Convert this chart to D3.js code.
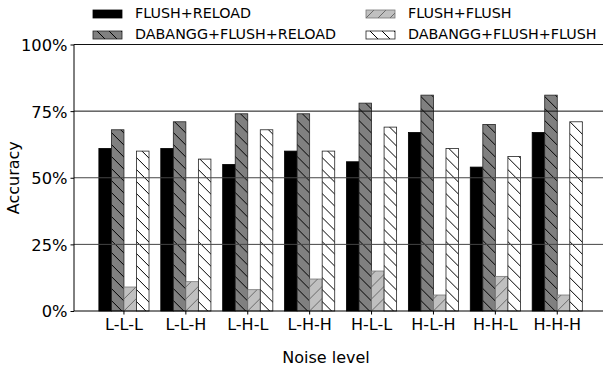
<!DOCTYPE html>
<html>
<head>
<meta charset="utf-8">
<script src="https://cdn.jsdelivr.net/npm/d3@7"></script>
<style>
  body { margin: 0; background: #fff; }
  text { font-family: "DejaVu Sans", sans-serif; fill: #000; }
</style>
</head>
<body>
<div id="chart"></div>
<script>
// Data
var categories = ['L-L-L', 'L-L-H', 'L-H-L', 'L-H-H', 'H-L-L', 'H-L-H', 'H-H-L', 'H-H-H'];
var seriesNames = ['FLUSH+RELOAD', 'DABANGG+FLUSH+RELOAD', 'FLUSH+FLUSH', 'DABANGG+FLUSH+FLUSH'];
var flushReload = [61, 61, 55, 60, 56, 67, 54, 67];
var dabanggFlushReload = [68, 71, 74, 74, 78, 81, 70, 81];
var flushFlush = [9, 11, 8, 12, 15, 6, 13, 6];
var dabanggFlushFlush = [60, 57, 68, 60, 69, 61, 58, 71];
var yTicks = [0, 25, 50, 75, 100];

var seriesValues = [flushReload, dabanggFlushReload, flushFlush, dabanggFlushFlush];

var svgWidth = 603;
var svgHeight = 373;

var svg = d3.select('#chart')
    .append('svg')
    .attr('width', svgWidth)
    .attr('height', svgHeight);

// hatch patterns
var defs = svg.append('defs');

function hatch(id, bg, stroke, dir) {
    var p = defs.append('pattern')
        .attr('id', id)
        .attr('patternUnits', 'userSpaceOnUse')
        .attr('width', 12)
        .attr('height', 12);
    p.append('rect').attr('width', 12).attr('height', 12).attr('fill', bg);
    var segs = dir === 'back'
        ? [[-3, -3, 15, 15], [-3, 9, 3, 15], [9, -3, 15, 3]]
        : [[-3, 15, 15, -3], [-3, 3, 3, -3], [9, 15, 15, 9]];
    segs.forEach(function(s) {
        p.append('line')
            .attr('x1', s[0]).attr('y1', s[1])
            .attr('x2', s[2]).attr('y2', s[3])
            .attr('stroke', stroke)
            .attr('stroke-width', 1);
    });
}
hatch('hDark', '#808080', '#000', 'back');
hatch('hLight', '#c0c0c0', '#6a6a6a', 'fwd');
hatch('hWhite', '#fff', '#000', 'back');

var fills = ['#000', 'url(#hDark)', 'url(#hLight)', 'url(#hWhite)'];
var edges = ['#000', '#222', '#777', '#222'];

var margin = { left: 74, top: 44.5, bottom: 311 };

// scales
var x0 = d3.scaleBand()
    .domain(categories)
    .range([93, 93 + 8 * 61.9])
    .paddingInner(0.19)
    .paddingOuter(0.095);

var x1 = d3.scaleBand()
    .domain(d3.range(seriesNames.length))
    .range([0, x0.bandwidth()]);

var y = d3.scaleLinear()
    .domain([0, 100])
    .range([margin.bottom, margin.top]);

// bars
var groups = svg.append('g').selectAll('g')
    .data(categories)
    .enter()
    .append('g')
    .attr('transform', (d) => `translate(${x0(d)},0)`);

groups.selectAll('rect')
    .data((d, i) => seriesValues.map((vals, s) => ({ s: s, v: vals[i] })))
    .enter()
    .append('rect')
    .attr('x', (d) => x1(d.s))
    .attr('y', (d) => y(d.v))
    .attr('width', x1.bandwidth())
    .attr('height', (d) => y(0) - y(d.v))
    .attr('fill', (d) => fills[d.s])
    .attr('stroke', (d) => edges[d.s])
    .attr('stroke-width', 0.8);

// gridlines on top of the bars
svg.append('g')
    .selectAll('line')
    .data(yTicks.filter((t) => t > 0))
    .enter()
    .append('line')
    .attr('x1', margin.left)
    .attr('x2', svgWidth)
    .attr('y1', (d) => y(d))
    .attr('y2', (d) => y(d))
    .attr('stroke', (d) => d === 100 || d === 75 ? '#111' : '#444')
    .attr('stroke-width', 1);

// axes
var leftAxis = d3.axisLeft(y)
    .tickValues(yTicks)
    .tickSize(3.5)
    .tickPadding(3)
    .tickFormat((d) => d + '%');

var yAxis = svg.append('g')
    .attr('transform', `translate(${margin.left},0)`)
    .call(leftAxis);
yAxis.select('.domain').attr('stroke', '#000').attr('d', `M0,${margin.top}V${margin.bottom}`);
yAxis.selectAll('text').style('font-size', '16.3px').attr('dy', '0.36em');

var bottomAxis = d3.axisBottom(x0)
    .tickSize(3.5)
    .tickPadding(4);

var xAxis = svg.append('g')
    .attr('transform', `translate(0,${margin.bottom})`)
    .call(bottomAxis);
xAxis.select('.domain').attr('stroke', '#000').attr('d', `M${margin.left},0H${svgWidth}`);
xAxis.selectAll('text').style('font-size', '16px');

// axis titles
svg.append('text')
    .attr('transform', `translate(19, ${(margin.top + margin.bottom) / 2}) rotate(-90)`)
    .attr('text-anchor', 'middle')
    .style('font-size', '16px')
    .text('Accuracy');

svg.append('text')
    .attr('x', 326)
    .attr('y', 363)
    .attr('text-anchor', 'middle')
    .style('font-size', '16px')
    .text('Noise level');

// legend
var legendPos = [[93, 18], [93, 39], [366, 18], [366, 39]];
var legendOrder = [0, 1, 2, 3];

var legend = svg.append('g')
    .selectAll('g')
    .data(legendOrder)
    .enter()
    .append('g')
    .attr('transform', (d) => `translate(${legendPos[d][0]},${legendPos[d][1]})`);

legend.append('rect')
    .attr('x', 0)
    .attr('y', -8)
    .attr('width', 29)
    .attr('height', 8)
    .attr('fill', (d) => fills[d])
    .attr('stroke', (d) => edges[d])
    .attr('stroke-width', 0.8);

legend.append('text')
    .attr('x', 42)
    .attr('y', 0)
    .style('font-size', '14.3px')
    .text((d) => seriesNames[d]);
</script>
</body>
</html>
